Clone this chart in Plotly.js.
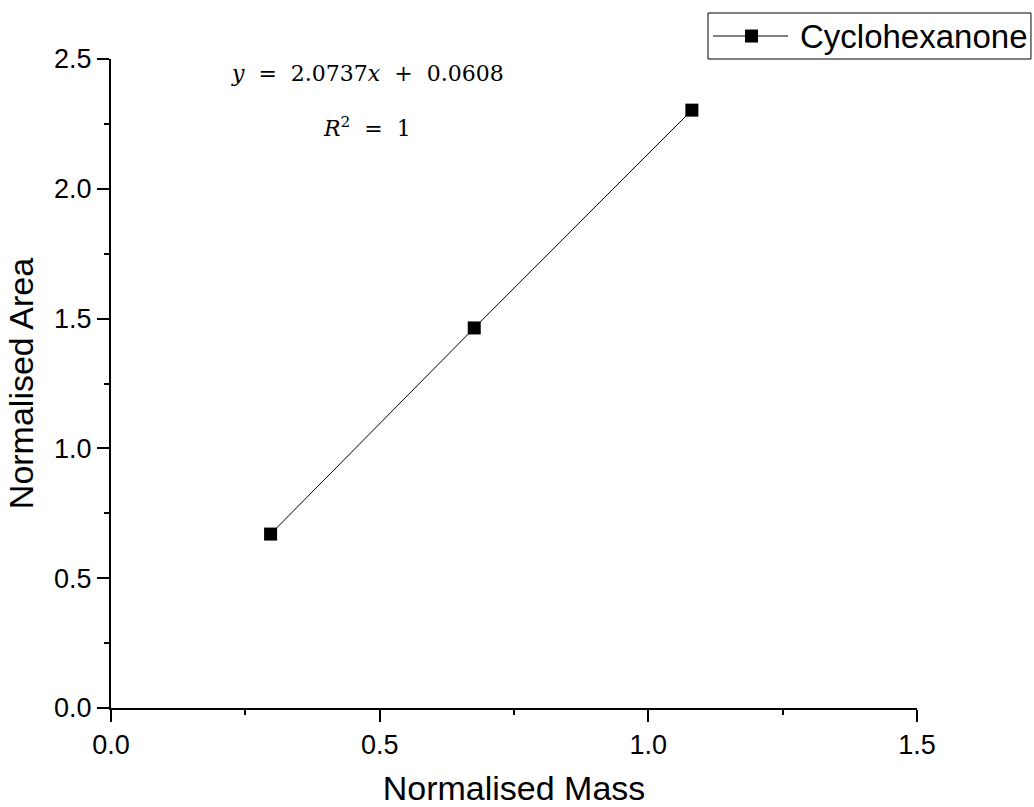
<!DOCTYPE html>
<html>
<head>
<meta charset="utf-8">
<script src="https://cdn.plot.ly/plotly-3.0.1.min.js"></script>
<style>html,body{margin:0;padding:0;background:#fff;}#chart{width:1034px;height:807px;}</style>
</head>
<body>
<div id="chart"></div>
<script>
var seriesName = "Cyclohexanone";
var normalisedMass = [0.297, 0.676, 1.081];
var normalisedArea = [0.670, 1.464, 2.303];
var xTickVals = [0.0, 0.5, 1.0, 1.5];
var xTickText = ["0.0", "0.5", "1.0", "1.5"];
var yTickVals = [0.0, 0.5, 1.0, 1.5, 2.0, 2.5];
var yTickText = ["0.0", "0.5", "1.0", "1.5", "2.0", "2.5"];
var equationText = "<i>y</i>&nbsp;&nbsp;=&nbsp;&nbsp;2.0737<i>x</i>&nbsp;&nbsp;+&nbsp;&nbsp;0.0608";
var r2Text = "<i>R</i><sup>2</sup>&nbsp;&nbsp;=&nbsp;&nbsp;1";

var trace = {
  x: normalisedMass,
  y: normalisedArea,
  mode: "lines+markers",
  type: "scatter",
  name: seriesName,
  line: {color: "#000", width: 1},
  marker: {symbol: "square", size: 13, color: "#000"},
  cliponaxis: false
};

var sans = "Liberation Sans, Arial, sans-serif";
var axisFont = {family: sans, size: 27, color: "#000"};

// legend drawn as a key box (paper coordinates)
var shapes = [
  {type: "rect", xref: "paper", yref: "paper", x0: 0.7407, x1: 1.1414, y0: 1.0, y1: 1.0709,
   line: {color: "#000", width: 1}, fillcolor: "#fff", layer: "above"},
  {type: "line", xref: "paper", yref: "paper", x0: 0.7469, x1: 0.8400, y0: 1.0354, y1: 1.0354,
   line: {color: "#000", width: 1}, layer: "above"},
  {type: "rect", xref: "paper", yref: "paper", x0: 0.7866, x1: 0.8027, y0: 1.0254, y1: 1.0454,
   line: {color: "#000", width: 0}, fillcolor: "#000", layer: "above"}
];

var layout = {
  width: 1034, height: 807,
  margin: {l: 111, r: 117, t: 59, b: 99, pad: 0, autoexpand: false},
  paper_bgcolor: "#fff", plot_bgcolor: "#fff",
  showlegend: false,
  xaxis: {
    range: [0, 1.5], showgrid: false, zeroline: false,
    showline: true, linecolor: "#000", linewidth: 2,
    ticks: "outside", ticklen: 12, tickwidth: 2, tickcolor: "#000",
    tickvals: xTickVals, ticktext: xTickText, tickfont: axisFont,
    minor: {ticks: "outside", ticklen: 5, tickwidth: 2, tickcolor: "#000", dtick: 0.25, showgrid: false},
    title: {text: "Normalised Mass", font: {family: sans, size: 34, color: "#000"}, standoff: 22}
  },
  yaxis: {
    range: [0, 2.5], showgrid: false, zeroline: false,
    showline: true, linecolor: "#000", linewidth: 2,
    ticks: "outside", ticklen: 12, tickwidth: 2, tickcolor: "#000",
    tickvals: yTickVals, ticktext: yTickText, tickfont: axisFont,
    minor: {ticks: "outside", ticklen: 5, tickwidth: 2, tickcolor: "#000", dtick: 0.25, showgrid: false},
    title: {text: "Normalised Area", font: {family: sans, size: 34, color: "#000"}, standoff: 10}
  },
  shapes: shapes,
  annotations: [
    {xref: "paper", yref: "paper", x: 0.318, y: 0.978, text: equationText, showarrow: false,
     xanchor: "center", yanchor: "middle", font: {family: "DejaVu Serif, serif", size: 22, color: "#000"}},
    {xref: "paper", yref: "paper", x: 0.318, y: 0.895, text: r2Text, showarrow: false,
     xanchor: "center", yanchor: "middle", font: {family: "DejaVu Serif, serif", size: 22, color: "#000"}},
    {xref: "paper", yref: "paper", x: 0.8524, y: 1.0354, text: seriesName, showarrow: false,
     xanchor: "left", yanchor: "middle", font: {family: sans, size: 33, color: "#000"}}
  ]
};

Plotly.newPlot("chart", [trace], layout, {displayModeBar: false, staticPlot: true});
</script>
</body>
</html>
